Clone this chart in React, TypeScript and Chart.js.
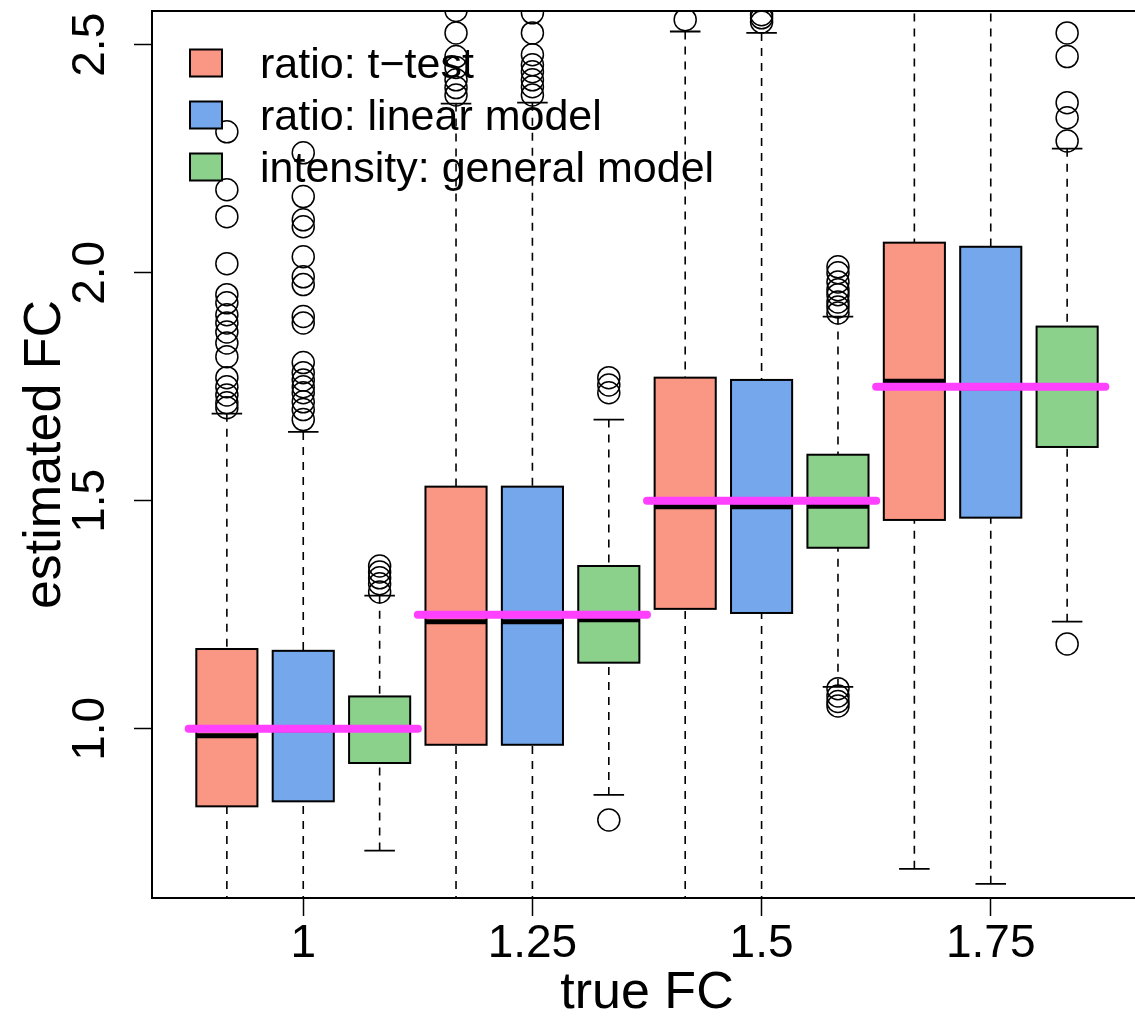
import React, { useEffect, useRef } from 'react';
import { Chart, registerables } from 'chart.js';

Chart.register(...registerables);

const FONT = "'Liberation Sans', Arial, Helvetica, sans-serif";

// groups on the x axis
const groupLabels = ['1', '1.25', '1.5', '1.75'];
const trueFC = [1.0, 1.25, 1.5, 1.75];
const xTickPositions = [2, 5, 8, 11];
const yTickValues = [1.0, 1.5, 2.0, 2.5];

// methods (legend)
const methods = ['ratio: t\u2212test', 'ratio: linear model', 'intensity: general model'];
const methodColors = ['#FA9684', '#74A7EC', '#8BD18B'];

// one entry per box, left to right (red, blue, green for each group)
const boxPos = [1, 2, 3, 4, 5, 6, 7, 8, 9, 10, 11, 12];
const whiskerLow = [0.55, 0.55, 0.733, 0.55, 0.55, 0.855, 0.55, 0.55, 1.092, 0.693, 0.66, 1.235];
const q1 = [0.83, 0.841, 0.925, 0.965, 0.965, 1.145, 1.263, 1.254, 1.397, 1.458, 1.463, 1.618];
const medians = [0.985, 0.998, 1.0, 1.235, 1.235, 1.239, 1.487, 1.487, 1.488, 1.762, 1.748, 1.75];
const q3 = [1.175, 1.171, 1.071, 1.531, 1.531, 1.357, 1.77, 1.765, 1.601, 2.066, 2.057, 1.882];
const whiskerHigh = [1.691, 1.651, 1.292, 2.371, 2.373, 1.678, 2.529, 2.526, 1.904, 2.7, 2.7, 2.272];
const outliers: number[][] = [
  [2.309, 2.182, 2.123, 2.02, 1.952, 1.934, 1.908, 1.89, 1.87, 1.846, 1.816, 1.77, 1.75, 1.732, 1.715, 1.704],
  [2.263, 2.167, 2.116, 2.101, 2.035, 1.991, 1.974, 1.904, 1.89, 1.803, 1.781, 1.765, 1.75, 1.737, 1.717, 1.7, 1.678],
  [1.357, 1.344, 1.331, 1.318, 1.3],
  [2.575, 2.526, 2.474, 2.45, 2.423, 2.406, 2.39],
  [2.57, 2.526, 2.478, 2.456, 2.441, 2.423, 2.408, 2.39],
  [1.77, 1.754, 1.737, 0.8],
  [2.555],
  [2.566, 2.559, 2.55],
  [2.013, 2.0, 1.98, 1.963, 1.952, 1.936, 1.925, 1.912, 1.088, 1.072, 1.06, 1.05],
  [],
  [],
  [2.526, 2.474, 2.373, 2.34, 2.289, 1.186],
];

const BOX_HALF = 0.4;
const MAGENTA = '#FF40FF';

const boxPlugin = {
  id: 'rBoxes',
  beforeDatasetsDraw(chart: any) {
    const { ctx, chartArea: a } = chart;
    const xs = chart.scales.x;
    const ys = chart.scales.y;
    ctx.save();
    ctx.beginPath();
    ctx.rect(a.left, a.top, a.right - a.left, a.bottom - a.top);
    ctx.clip();
    boxPos.forEach((p, i) => {
      const cx = xs.getPixelForValue(p);
      const hw = xs.getPixelForValue(p + BOX_HALF) - cx;
      const chw = hw / 2;
      const yLo = ys.getPixelForValue(whiskerLow[i]);
      const yQ1 = ys.getPixelForValue(q1[i]);
      const yMed = ys.getPixelForValue(medians[i]);
      const yQ3 = ys.getPixelForValue(q3[i]);
      const yHi = ys.getPixelForValue(whiskerHigh[i]);
      ctx.strokeStyle = '#000';
      // whiskers (dashed)
      ctx.lineWidth = 1.6;
      ctx.setLineDash([8, 7]);
      ctx.beginPath();
      ctx.moveTo(cx, yHi);
      ctx.lineTo(cx, yQ3);
      ctx.stroke();
      ctx.beginPath();
      ctx.moveTo(cx, yLo);
      ctx.lineTo(cx, yQ1);
      ctx.stroke();
      ctx.setLineDash([]);
      // staples
      ctx.lineWidth = 1.8;
      ctx.beginPath();
      ctx.moveTo(cx - chw, yHi);
      ctx.lineTo(cx + chw, yHi);
      ctx.moveTo(cx - chw, yLo);
      ctx.lineTo(cx + chw, yLo);
      ctx.stroke();
      // box
      ctx.fillStyle = methodColors[i % 3];
      ctx.fillRect(cx - hw, yQ3, 2 * hw, yQ1 - yQ3);
      ctx.lineWidth = 2;
      ctx.strokeRect(cx - hw, yQ3, 2 * hw, yQ1 - yQ3);
      // median
      ctx.lineWidth = 5;
      ctx.lineCap = 'butt';
      ctx.beginPath();
      ctx.moveTo(cx - hw, yMed);
      ctx.lineTo(cx + hw, yMed);
      ctx.stroke();
    });
    ctx.restore();
  },
  afterDatasetsDraw(chart: any) {
    const { ctx, chartArea: a } = chart;
    ctx.save();
    // frame
    ctx.strokeStyle = '#000';
    ctx.lineWidth = 2;
    ctx.strokeRect(a.left, a.top, a.right - a.left, a.bottom - a.top);
    // legend (top left, no border)
    ctx.font = `43px ${FONT}`;
    ctx.textAlign = 'left';
    ctx.textBaseline = 'alphabetic';
    methods.forEach((m, i) => {
      const cy = a.top + 52 + i * 52;
      ctx.fillStyle = methodColors[i];
      ctx.fillRect(a.left + 38, cy - 13.5, 32, 27);
      ctx.lineWidth = 2;
      ctx.strokeRect(a.left + 38, cy - 13.5, 32, 27);
      ctx.fillStyle = '#000';
      ctx.fillText(m, a.left + 108, cy + 15);
    });
    ctx.restore();
  },
};

export default function App() {
  const canvasRef = useRef<HTMLCanvasElement | null>(null);

  useEffect(() => {
    document.body.style.margin = '0';
    const canvas = canvasRef.current;
    if (!canvas) return;

    const outlierData: { x: number; y: number }[] = [];
    outliers.forEach((vals, i) => vals.forEach((v) => outlierData.push({ x: boxPos[i], y: v })));

    const trueLines = trueFC.map((fc, g) => ({
      type: 'line' as const,
      data: [
        { x: boxPos[g * 3] - 0.5, y: fc },
        { x: boxPos[g * 3 + 2] + 0.5, y: fc },
      ],
      borderColor: MAGENTA,
      borderWidth: 8,
      borderCapStyle: 'round' as const,
      pointRadius: 0,
      fill: false,
      order: 0,
    }));

    const chart = new Chart(canvas, {
      type: 'scatter',
      data: {
        datasets: [
          ...trueLines,
          {
            type: 'scatter' as const,
            data: outlierData,
            pointStyle: 'circle',
            pointRadius: 11,
            pointHoverRadius: 11,
            borderColor: '#000',
            backgroundColor: 'rgba(0,0,0,0)',
            borderWidth: 1.5,
            order: 1,
          },
        ] as any,
      },
      plugins: [boxPlugin],
      options: {
        animation: false,
        responsive: false,
        events: [],
        layout: { padding: { left: 0, right: 3, top: 11, bottom: 0 }, autoPadding: false },
        plugins: { legend: { display: false }, tooltip: { enabled: false } },
        scales: {
          x: {
            type: 'linear',
            min: 0.02,
            max: 12.98,
            afterFit: (s: any) => {
              s.height = 119;
              s.paddingLeft = 0;
              s.paddingRight = 0;
              s.paddingTop = 0;
              s.paddingBottom = 0;
            },
            afterBuildTicks: (s: any) => {
              s.ticks = xTickPositions.map((v) => ({ value: v }));
            },
            ticks: {
              autoSkip: false,
              maxRotation: 0,
              padding: 1,
              color: '#000',
              font: { family: FONT, size: 46 },
              callback: (v: any) => {
                const k = xTickPositions.indexOf(Number(v));
                return k >= 0 ? groupLabels[k] : '';
              },
            },
            grid: { display: true, drawOnChartArea: false, drawTicks: true, tickLength: 18, tickColor: '#000', tickWidth: 1.5 },
            border: { display: false },
            title: {
              display: true,
              text: 'true FC',
              color: '#000',
              font: { family: FONT, size: 52, lineHeight: 0.88 },
              padding: 0,
            },
          },
          y: {
            type: 'linear',
            min: 0.629,
            max: 2.574,
            afterFit: (s: any) => {
              s.width = 152;
              s.paddingLeft = 0;
              s.paddingRight = 0;
              s.paddingTop = 0;
              s.paddingBottom = 0;
            },
            afterBuildTicks: (s: any) => {
              s.ticks = yTickValues.map((v) => ({ value: v }));
            },
            ticks: {
              autoSkip: false,
              minRotation: 90,
              maxRotation: 90,
              crossAlign: 'center',
              padding: 11,
              color: '#000',
              font: { family: FONT, size: 46 },
              callback: (v: any) => Number(v).toFixed(1),
            },
            grid: { display: true, drawOnChartArea: false, drawTicks: true, tickLength: 18, tickColor: '#000', tickWidth: 1.5 },
            border: { display: false },
            title: {
              display: true,
              text: 'estimated FC',
              color: '#000',
              font: { family: FONT, size: 52, lineHeight: 1.2 },
              padding: { top: 14, bottom: 0 },
            },
          },
        },
      } as any,
    });

    return () => chart.destroy();
  }, []);

  return (
    <div style={{ width: 1135, height: 1017, overflow: 'hidden', position: 'relative', background: '#fff' }}>
      <canvas ref={canvasRef} width={1145} height={1017} style={{ display: 'block' }} />
    </div>
  );
}
